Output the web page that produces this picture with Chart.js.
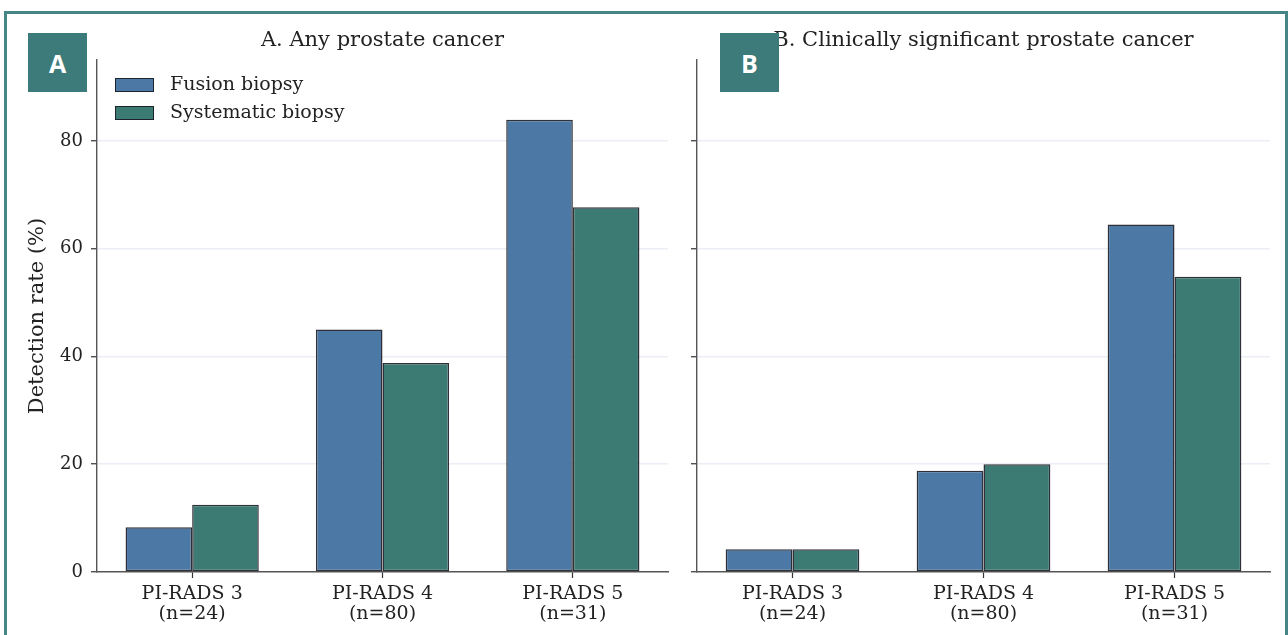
<!DOCTYPE html>
<html>
<head>
<meta charset="utf-8">
<script src="https://cdn.jsdelivr.net/npm/chart.js@4/dist/chart.umd.min.js"></script>
<style>
    html, body { margin: 0; padding: 0; background: #fff; }
    body { width: 1288px; height: 635px; position: relative; overflow: hidden; }
    #frame { position: absolute; left: 4px; top: 11px; width: 1278px; height: 700px; border: 3px solid #468585; }
    .wrap { position: absolute; top: 0; height: 635px; }
    #wrapA { left: 0; width: 680px; }
    #wrapB { left: 680px; width: 608px; }
    .badge {
        position: absolute; top: 33px; width: 59px; height: 59px;
        background: #3c7b79; color: #fff;
        font: bold 25px "Open Sans", sans-serif;
        display: flex; align-items: center; justify-content: center;
        z-index: 5;
    }
</style>
</head>
<body>
<div id="frame"></div>
<div class="wrap" id="wrapA"><canvas id="chartA" width="680" height="635"></canvas></div>
<div class="wrap" id="wrapB"><canvas id="chartB" width="608" height="635"></canvas></div>
<div class="badge" style="left:28px">A</div>
<div class="badge" style="left:720px">B</div>
<script>
    // Data (detection rate, %)
    const categories = [["PI-RADS 3", "(n=24)"], ["PI-RADS 4", "(n=80)"], ["PI-RADS 5", "(n=31)"]];
    const seriesNames = ["Fusion biopsy", "Systematic biopsy"];
    const fusionAny = [8.3, 45.0, 83.9];
    const systematicAny = [12.5, 38.8, 67.7];
    const fusionSig = [4.2, 18.8, 64.5];
    const systematicSig = [4.2, 20.0, 54.8];
    const yTicks = [0, 20, 40, 60, 80];
    const titles = ["A. Any prostate cancer", "B. Clinically significant prostate cancer"];

    const colors = ["#4c78a6", "#3b7b73"];
    const edgeColor = "rgba(25,25,35,0.9)";
    const textColor = "#222";

    Chart.defaults.font.family = "'DejaVu Serif', serif";
    Chart.defaults.color = textColor;

    // legend drawn inside the plot area (top-left), like matplotlib
    const innerLegend = {
        id: "innerLegend",
        afterDraw(chart, args, opts) {
            if (!opts.show) return;
            const ctx = chart.ctx;
            ctx.save();
            ctx.font = "19px 'DejaVu Serif', serif";
            ctx.textBaseline = "middle";
            chart.data.datasets.forEach((ds, i) => {
                const y = 78 + i * 28;
                ctx.fillStyle = ds.backgroundColor;
                ctx.fillRect(115, y, 39, 14);
                ctx.strokeStyle = edgeColor;
                ctx.lineWidth = 1;
                ctx.strokeRect(115.5, y + 0.5, 38, 13);
                ctx.fillStyle = textColor;
                ctx.fillText(ds.label, 170, y + 7.5);
            });
            ctx.restore();
        }
    };

    function makeChart(id, title, fusion, systematic, isFirst) {
        const ctx = document.getElementById(id).getContext("2d");
        return new Chart(ctx, {
            type: "bar",
            data: {
                labels: categories,
                datasets: [
                    { label: seriesNames[0], data: fusion, backgroundColor: colors[0] },
                    { label: seriesNames[1], data: systematic, backgroundColor: colors[1] }
                ].map(d => Object.assign(d, {
                    borderColor: edgeColor,
                    borderWidth: 1.5,
                    borderSkipped: false,
                    barPercentage: 1.0,
                    categoryPercentage: 0.7
                }))
            },
            options: {
                responsive: false,
                animation: false,
                devicePixelRatio: 1,
                layout: { padding: { left: 0, right: isFirst ? 12 : 18, top: 0, bottom: 0 } },
                plugins: {
                    legend: { display: false },
                    tooltip: { enabled: false },
                    title: {
                        display: true,
                        text: title,
                        fullSize: false,
                        font: { size: 21, weight: "normal" },
                        color: textColor,
                        padding: { top: 28.4, bottom: 6.4 }
                    },
                    innerLegend: { show: isFirst }
                },
                scales: {
                    x: {
                        offset: true,
                        grid: { display: true, drawOnChartArea: false, offset: false, tickLength: 6, tickColor: "#333", tickWidth: 1.2 },
                        border: { color: "#555", width: 1.4 },
                        ticks: { font: { size: 19, lineHeight: 1.05 }, padding: 6, color: textColor, maxRotation: 0 },
                        afterFit(scale) { scale.height = 63; }
                    },
                    y: {
                        min: 0,
                        max: 95,
                        z: 1,
                        afterBuildTicks(scale) {
                            scale.ticks = yTicks.map(v => ({ value: v }));
                        },
                        grid: {
                            color: c => (c.tick && c.tick.value === 0) ? "rgba(0,0,0,0)" : "rgba(215,221,233,0.5)",
                            lineWidth: 1.5,
                            tickLength: 6,
                            tickColor: "#333",
                            tickWidth: 1.2
                        },
                        border: { color: "#555", width: 1.4 },
                        ticks: {
                            display: isFirst,
                            font: { size: 18 },
                            padding: 8,
                            color: textColor
                        },
                        title: {
                            display: isFirst,
                            text: "Detection rate (%)",
                            font: { size: 21 },
                            color: textColor,
                            padding: { top: 25.4, bottom: 0 }
                        },
                        afterFit(scale) { scale.width = isFirst ? 97 : 17; }
                    }
                }
            },
            plugins: [innerLegend]
        });
    }

    makeChart("chartA", titles[0], fusionAny, systematicAny, true);
    makeChart("chartB", titles[1], fusionSig, systematicSig, false);
</script>
</body>
</html>
